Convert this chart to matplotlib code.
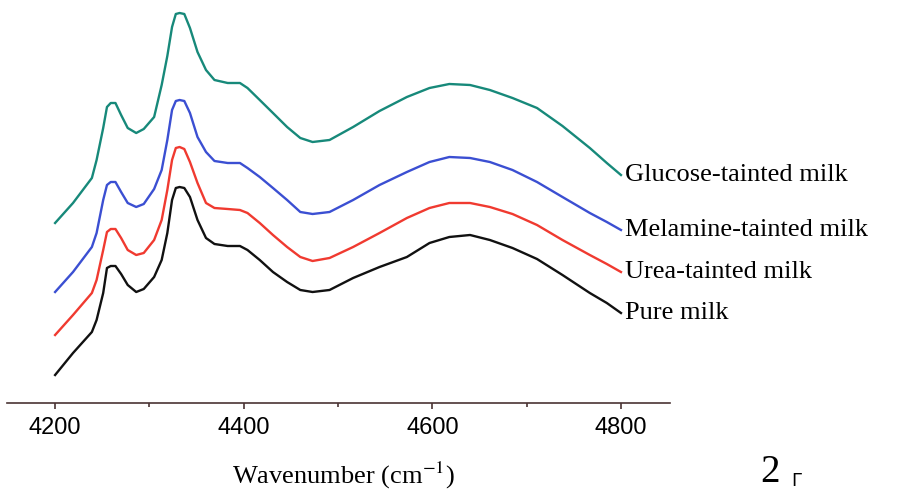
import numpy as np
import matplotlib
matplotlib.use("Agg")
import matplotlib.pyplot as plt

plt.rcParams['mathtext.fontset'] = 'stix'

# NIR spectra (intensity in arbitrary units, offset curves)
wavenumber = [4200, 4219, 4239, 4244, 4251, 4255, 4259, 4264, 4270, 4277,
              4286, 4294, 4305, 4313, 4319, 4324, 4328, 4332, 4337, 4343,
              4351, 4360, 4369, 4383, 4396, 4404, 4417, 4431, 4446, 4460,
              4473, 4491, 4516, 4544, 4573, 4597, 4618, 4640, 4661, 4685,
              4711, 4738, 4767, 4785, 4800]

glucose = [180, 200, 225, 243, 275, 296, 300, 300, 288, 275,
           270, 274, 286, 318, 347, 376, 389, 390, 389, 375,
           351, 333, 323, 320, 320, 315, 303, 290, 276, 265,
           261, 263, 276, 292, 306, 315, 319, 318, 313, 305,
           295, 277, 255, 240, 228]
melamine = [111, 131, 156, 170, 203, 218, 221, 221, 211, 200,
            196, 199, 214, 233, 263, 293, 302, 303, 302, 290,
            266, 251, 242, 240, 240, 235, 226, 215, 203, 191,
            189, 191, 203, 218, 231, 241, 246, 245, 241, 233,
            221, 206, 190, 181, 173]
urea = [68, 88, 110, 123, 153, 171, 174, 174, 165, 153,
        148, 150, 163, 183, 213, 243, 255, 256, 254, 241,
        220, 200, 195, 194, 193, 190, 180, 168, 156, 146,
        142, 145, 156, 170, 185, 195, 200, 200, 196, 189,
        178, 163, 148, 139, 131]
pure = [28, 50, 71, 83, 110, 135, 137, 137, 129, 118,
        111, 114, 126, 143, 170, 203, 215, 216, 215, 206,
        183, 165, 159, 157, 157, 153, 143, 131, 121, 113,
        111, 113, 125, 136, 146, 160, 166, 168, 163, 155,
        144, 128, 110, 100, 90]

names = ["Glucose-tainted milk", "Melamine-tainted milk", "Urea-tainted milk", "Pure milk"]
colors = ["#17897a", "#3b4fd2", "#f03a30", "#111111"]

fig = plt.figure(figsize=(9.02, 4.92), dpi=100)
ax = fig.add_axes([7 / 902, 89 / 492, 663 / 902, 403 / 492])

for name, vals, col in zip(names, [glucose, melamine, urea, pure], colors):
    ax.plot(wavenumber, vals, color=col, linewidth=1.7, solid_joinstyle="round")
    ax.text(4804, vals[-1], name, color="black", fontsize=19,
            family="Liberation Serif", va="center", ha="left", clip_on=False)

ax.set_xlim(4149, 4852)
ax.set_ylim(0, 403)

for s in ["left", "top", "right"]:
    ax.spines[s].set_visible(False)
ax.spines["bottom"].set_color("#4a3434")
ax.spines["bottom"].set_linewidth(1.2)

ax.set_yticks([])
ax.set_xticks([4200, 4400, 4600, 4800])
ax.set_xticks([4300, 4500, 4700], minor=True)
ax.tick_params(axis="x", which="major", direction="out", length=4, width=1.2,
               color="#4a3434", pad=6, labelsize=17)
ax.tick_params(axis="x", which="minor", direction="out", length=3, width=1.2,
               color="#4a3434")
for lab in ax.get_xticklabels():
    lab.set_family("Liberation Sans")

fig.text(343 / 902, 1 - 484 / 492, "Wavenumber (cm$^{-1}$)", fontsize=19,
         family="Liberation Serif", ha="center", va="baseline")
fig.text(770 / 902, 1 - 482 / 492, "2", fontsize=28,
         family="Liberation Serif", ha="center", va="baseline")
fig.text(796 / 902, 0.004, "\u0393", fontsize=13,
         family="DejaVu Sans", ha="center", va="bottom")

fig.savefig("out.png", dpi=100)
